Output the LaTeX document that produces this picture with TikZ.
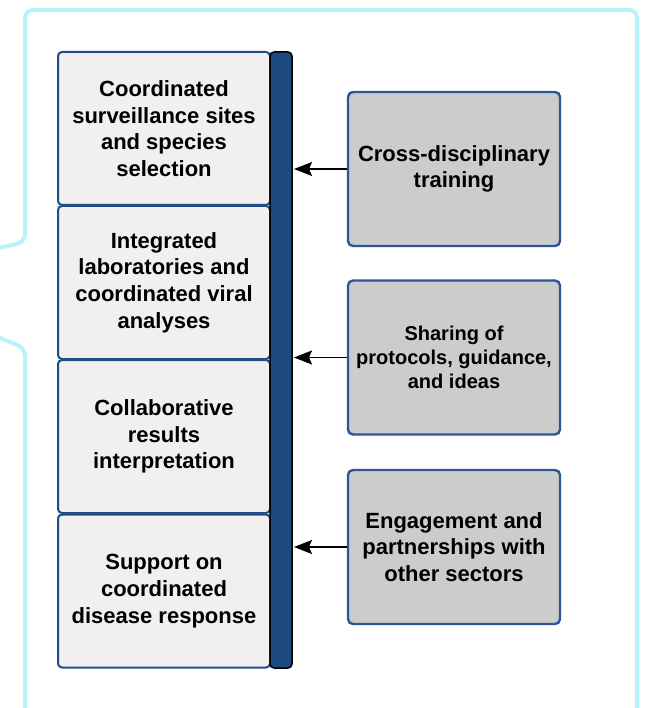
\documentclass[tikz,border=0pt]{standalone}
\usepackage{fontspec}
\setmainfont{Liberation Sans}
\usetikzlibrary{arrows.meta}
\definecolor{calloutcyan}{HTML}{B5F4F8}
\definecolor{stepblue}{HTML}{1F4E87}
\definecolor{barblue}{HTML}{1D4A80}
\definecolor{stepfill}{HTML}{F1F0EF}
\definecolor{supportfill}{HTML}{CCCCCC}
\definecolor{supportblue}{HTML}{2B5797}
\begin{document}
\begin{tikzpicture}[x=1pt,y=-1pt,
  stepbox/.style={draw=stepblue,line width=2pt,fill=stepfill,rounded corners=4pt,
    minimum width=212pt,minimum height=153pt,align=center,
    font=\fontsize{22}{26.7}\selectfont\bfseries},
  supportbox/.style={draw=supportblue,line width=2.4pt,fill=supportfill,rounded corners=5pt,
    minimum width=212pt,minimum height=154pt,align=center,
    font=\fontsize{22}{26.7}\selectfont\bfseries},
  link/.style={line width=1.6pt,-{Stealth[length=18pt,width=14pt,inset=3pt]}}]
\useasboundingbox (0,0) rectangle (644,708);
% callout outline
\draw[calloutcyan,line width=4pt,rounded corners=8pt]
  (-10,250) -- (25,242) -- (25,10) -- (637,10) -- (637,740) -- (25,740) -- (25,348) -- (-10,334);
% left column
\node[stepbox] (sites) at (164,128.5) {Coordinated\\surveillance sites\\and species\\selection};
\node[stepbox] (labs) at (164,282.5) {Integrated\\laboratories and\\coordinated viral\\analyses};
\node[stepbox] (results) at (164,436.5) {Collaborative\\results\\interpretation};
\node[stepbox] (response) at (164,591) {Support on\\coordinated\\disease response};
\draw[fill=barblue,draw=black,line width=1.5pt,rounded corners=4pt] (270,52) rectangle (292,668);
\coordinate (bar) at (294,0);
% right column
\node[supportbox] (training) at (454,169) {Cross-disciplinary\\training};
\node[supportbox,font=\fontsize{20}{24}\selectfont\bfseries] (sharing) at (454,357.5) {Sharing of\\protocols, guidance,\\and ideas};
\node[supportbox] (sectors) at (454,547) {Engagement and\\partnerships with\\other sectors};
\draw[link] (training.west) -- (training.west -| bar);
\draw[link] (sharing.west) -- (sharing.west -| bar);
\draw[link] (sectors.west) -- (sectors.west -| bar);
\end{tikzpicture}
\end{document}
